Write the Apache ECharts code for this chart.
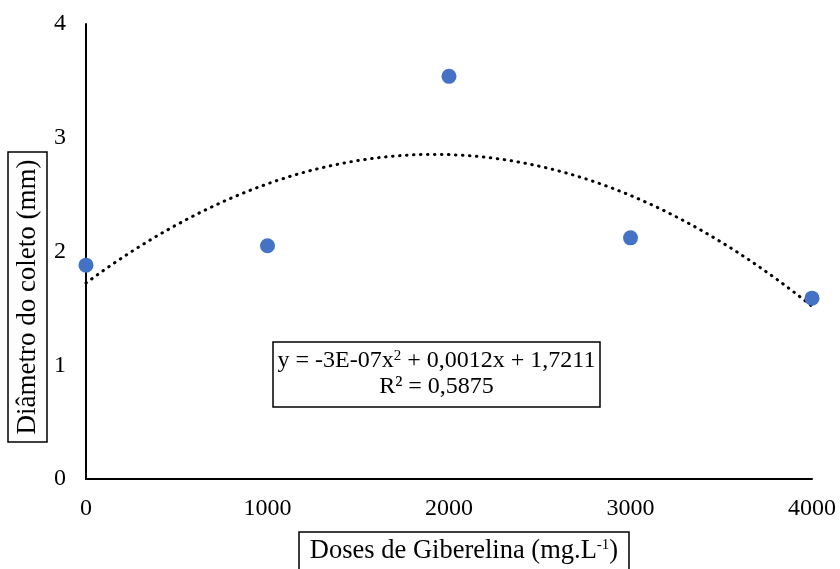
<!DOCTYPE html>
<html><head><meta charset="utf-8">
<script src="https://cdn.jsdelivr.net/npm/echarts@6/dist/echarts.min.js"></script>
<style>html,body{margin:0;padding:0;background:#fff}#c{width:840px;height:569px}</style>
</head><body><div id="c"></div>
<script>
const doses = [0, 1000, 2000, 3000, 4000];
const diametro = [1.88, 2.05, 3.54, 2.12, 1.59];
const xTicks = [0, 1000, 2000, 3000, 4000];
const yTicks = [0, 1, 2, 3, 4];
const xTitle = 'Doses de Giberelina (mg.L{sup|-1})';
const yTitle = 'Diâmetro do coleto (mm)';
const equationLine1 = 'y = -3E-07x{sup|2} + 0,0012x + 1,7211';
const equationLine2 = 'R² = 0,5875';

// least-squares quadratic trendline from the data (as Excel does)
function quadFit(xs, ys) {
  const n = xs.length; let S = [0,0,0,0,0], T = [0,0,0];
  for (let i = 0; i < n; i++) { const t = xs[i]/1000; for (let k=0;k<5;k++) S[k]+=Math.pow(t,k); for (let k=0;k<3;k++) T[k]+=ys[i]*Math.pow(t,k); }
  const A = [[S[0],S[1],S[2],T[0]],[S[1],S[2],S[3],T[1]],[S[2],S[3],S[4],T[2]]];
  for (let i=0;i<3;i++){ for (let j=i+1;j<3;j++){ const f=A[j][i]/A[i][i]; for(let k=i;k<4;k++) A[j][k]-=f*A[i][k]; } }
  const c=[0,0,0]; for (let i=2;i>=0;i--){ let s=A[i][3]; for(let k=i+1;k<3;k++) s-=A[i][k]*c[k]; c[i]=s/A[i][i]; }
  return c;
}
const coef = quadFit(doses, diametro);
const trend = [];
for (let x = 0; x <= 4000; x += 50) { const t = x/1000; trend.push([x, coef[0] + coef[1]*t + coef[2]*t*t]); }

const font = '"Liberation Serif", "Times New Roman", serif';
const supStyle = { fontFamily: font, fontSize: 15, verticalAlign: 'top', padding: [0,0,10,0], fill: '#000' };
const chart = echarts.init(document.getElementById('c'));
chart.setOption({
  animation: false,
  grid: { left: 86, right: 28, top: 24, bottom: 90, containLabel: false, outerBoundsMode: 'none' },
  xAxis: {
    type: 'value', min: 0, max: 4000, interval: 1000,
    axisLine: { lineStyle: { color: '#000', width: 2 } },
    axisTick: { show: false }, splitLine: { show: false },
    axisLabel: { color: '#000', fontFamily: font, fontSize: 24, margin: 18, formatter: v => String(v) }
  },
  yAxis: {
    type: 'value', min: 0, max: 4, interval: 1,
    axisLine: { show: true, lineStyle: { color: '#000', width: 2 } },
    axisTick: { show: false }, splitLine: { show: false },
    axisLabel: { color: '#000', fontFamily: font, fontSize: 24, margin: 20 }
  },
  series: [
    { type: 'line', data: trend, symbol: 'none', smooth: false, z: 1,
      lineStyle: { color: '#000', width: 3, type: [0.5, 6.5], cap: 'round' } },
    { type: 'scatter', data: doses.map((d, i) => [d, diametro[i]]), symbolSize: 15, z: 3,
      itemStyle: { color: '#4472C4', opacity: 1 } }
  ],
  graphic: [
    { type: 'rect', z: 10, shape: { x: 273, y: 342, width: 327, height: 65 },
      style: { fill: '#fff', stroke: '#000', lineWidth: 1.5 } },
    { type: 'text', z: 11, x: 436.5, y: 361,
      style: { text: equationLine1, fontFamily: font, fontSize: 24, fill: '#000', align: 'center', verticalAlign: 'middle',
               rich: { sup: supStyle } } },
    { type: 'text', z: 11, x: 436.5, y: 387,
      style: { text: equationLine2, fontFamily: font, fontSize: 24, fill: '#000', align: 'center', verticalAlign: 'middle' } },
    // x axis title box
    { type: 'rect', z: 10, shape: { x: 299, y: 532, width: 330, height: 46 },
      style: { fill: '#fff', stroke: '#000', lineWidth: 1.5 } },
    { type: 'text', z: 11, x: 464, y: 551,
      style: { text: xTitle, fontFamily: font, fontSize: 26.5, fill: '#000', align: 'center', verticalAlign: 'middle',
               rich: { sup: supStyle } } },
    // y axis title box
    { type: 'rect', z: 10, shape: { x: 8, y: 152, width: 39, height: 290 },
      style: { fill: '#fff', stroke: '#000', lineWidth: 1.5 } },
    { type: 'text', z: 11, x: 28, y: 297, rotation: Math.PI / 2,
      style: { text: yTitle, fontFamily: font, fontSize: 27, fill: '#000', align: 'center', verticalAlign: 'middle' } }
  ]
});
</script></body></html>
